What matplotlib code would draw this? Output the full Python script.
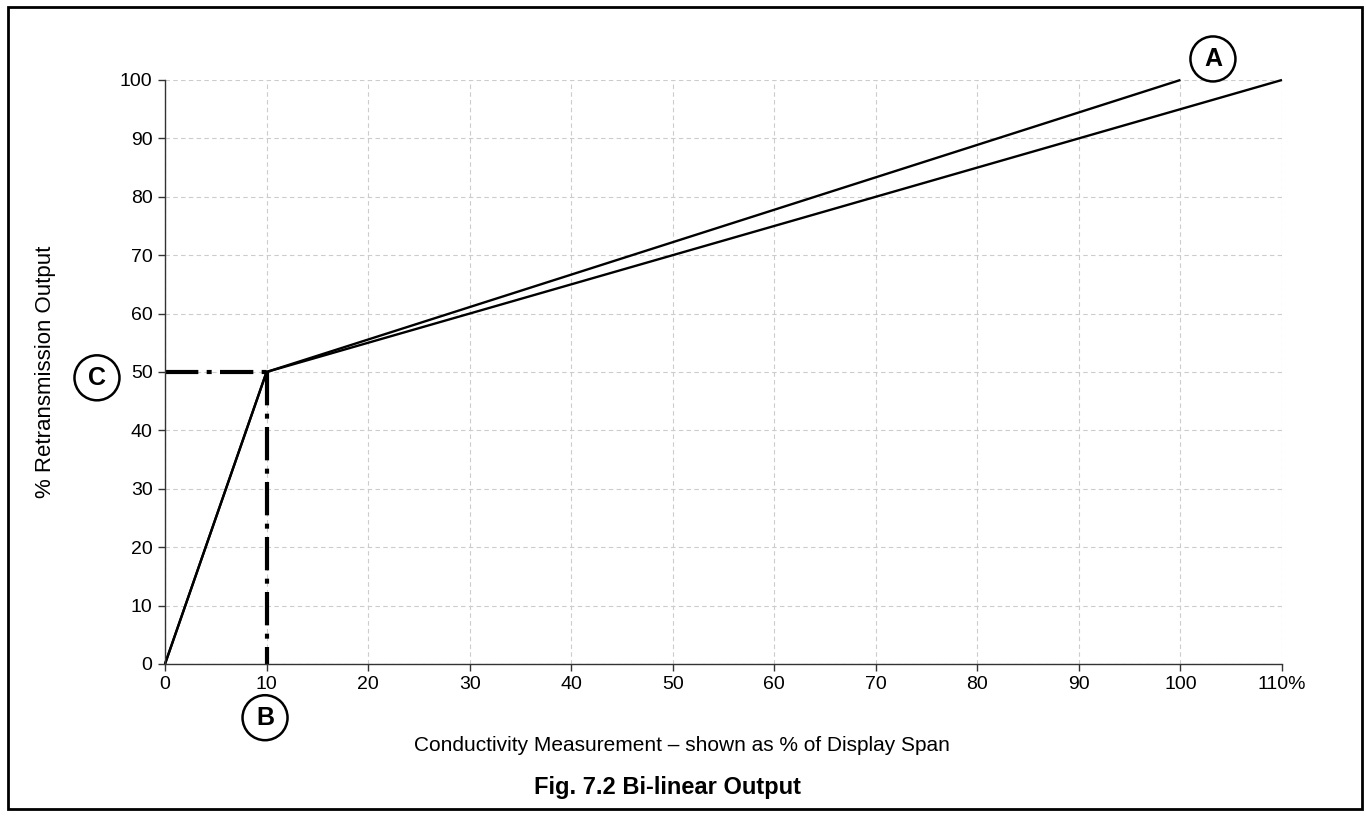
import matplotlib.pyplot as plt
from matplotlib.patches import Rectangle

plt.rcParams['font.family'] = ['Liberation Sans', 'DejaVu Sans']

# ------------ DATA -----------------
# measurement (% of display span) vs retransmission output (%)
meas_a = [0, 10, 100]
out_a = [0, 50, 100]
meas_b = [0, 10, 110]
out_b = [0, 50, 100]

# break point (B on x axis, C on y axis)
break_x = 10
break_y = 50

x_ticks = [0, 10, 20, 30, 40, 50, 60, 70, 80, 90, 100, 110]
x_tick_labels = ['0', '10', '20', '30', '40', '50', '60', '70', '80',
                 '90', '100', '110%']
y_ticks = [0, 10, 20, 30, 40, 50, 60, 70, 80, 90, 100]

# circled marker letters: (letter, x, y) in data units
markers = [('A', 103.2, 103.6), ('B', 9.85, -9.2), ('C', -6.7, 49.0)]

# ------------ FIGURE -----------------
fig = plt.figure(figsize=(13.66, 8.16), dpi=100)
ax = fig.add_axes([0.1208, 0.1863, 0.8177, 0.7157])

ax.set_xlim(0, 110)
ax.set_ylim(0, 100)
ax.set_xticks(x_ticks)
ax.set_xticklabels(x_tick_labels)
ax.set_yticks(y_ticks)
ax.tick_params(labelsize=14, color='#333333', length=5, width=1, pad=4)

ax.grid(True, linestyle=(0, (4, 3)), color='#cccccc', linewidth=0.8)
ax.set_axisbelow(True)
for side in ['top', 'right']:
    ax.spines[side].set_visible(False)
for side in ['left', 'bottom']:
    ax.spines[side].set_color('#333333')
    ax.spines[side].set_linewidth(1)

ax.plot(meas_a, out_a, color='black', linewidth=1.7, clip_on=False,
        solid_capstyle='butt')
ax.plot(meas_b, out_b, color='black', linewidth=1.7, clip_on=False,
        solid_capstyle='butt')

# dash-dot guides to the break point
dashdot = (0, (8, 2, 1.2, 2))
ax.plot([0, break_x], [break_y, break_y], color='black', linewidth=3,
        linestyle=dashdot, clip_on=False)
ax.plot([break_x, break_x], [break_y, 0], color='black', linewidth=3,
        linestyle=dashdot, clip_on=False)

for letter, mx, my in markers:
    ax.text(mx, my, letter, fontsize=18, fontweight='bold', ha='center',
            va='center', clip_on=False,
            bbox=dict(boxstyle='circle,pad=0.42', facecolor='white',
                      edgecolor='black', linewidth=1.8))

fig.text(0.4993, 0.087,
         'Conductivity Measurement \u2013 shown as % of Display Span',
         fontsize=15, ha='center', va='center')
fig.text(0.033, 0.544, '% Retransmission Output', fontsize=16,
         rotation=90, ha='center', va='center')
fig.text(0.489, 0.0355, 'Fig. 7.2 Bi-linear Output', fontsize=17,
         fontweight='bold', ha='center', va='center')

# outer frame
fig.patches.append(Rectangle((0.006, 0.009), 0.991, 0.983,
                             transform=fig.transFigure, fill=False,
                             edgecolor='black', linewidth=2))

fig.savefig('out.png', dpi=100)
